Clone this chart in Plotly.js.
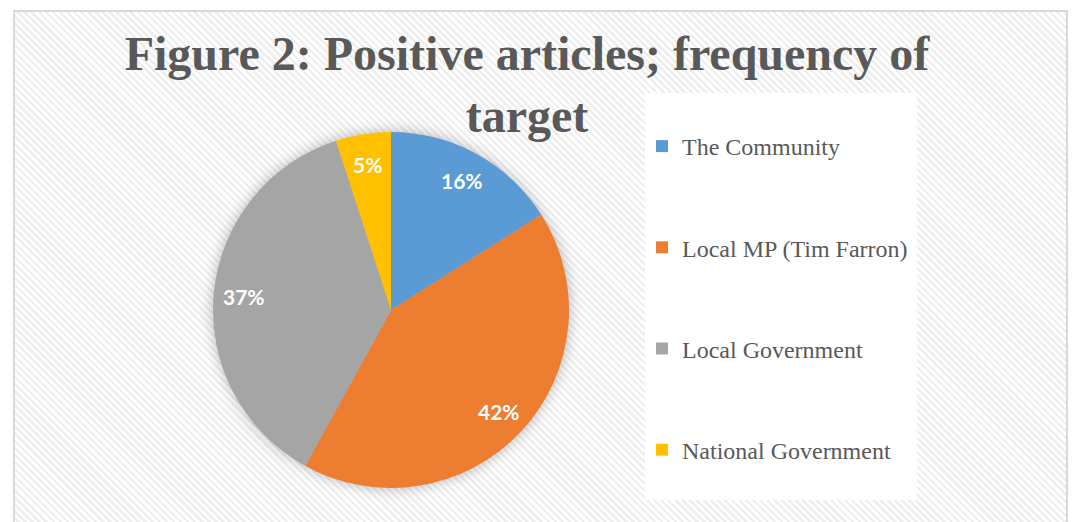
<!DOCTYPE html>
<html>
<head>
<meta charset="utf-8">
<script src="https://cdn.plot.ly/plotly-3.0.1.min.js"></script>
<style>
  html, body { margin: 0; padding: 0; background: #ffffff; }
  #wrap { position: relative; width: 1075px; height: 522px; overflow: hidden; background: #ffffff; }
  #frame {
    position: absolute; left: 13px; top: 10px; width: 1055px; height: 530px;
    border: 2px solid #d9d9d9; box-sizing: border-box;
    background: repeating-linear-gradient(45deg, #ffffff 0px, #ffffff 2.5px, #efefef 2.5px, #efefef 5px);
  }
  #chart { position: absolute; left: 0; top: 0; width: 1075px; height: 522px; }
  .pielayer { filter: drop-shadow(0px 0px 7px rgba(0,0,0,0.28)); }
</style>
</head>
<body>
<div id="wrap">
  <div id="frame"></div>
  <div id="chart"></div>
</div>
<script>
// ---- data ----
const categories = ["The Community", "Local MP (Tim Farron)", "Local Government", "National Government"];
const shares = [16, 42, 37, 5];
const colors = ["#5B9BD5", "#ED7D31", "#A5A5A5", "#FFC000"];
const titleText = "Figure 2: Positive articles; frequency of<br>target";

const W = 1075, H = 522;
const px = v => v / W;
const py = v => 1 - v / H;

// pie geometry (pixels)
const CX = 391, CY = 310, R = 178;

const pie = {
  type: "pie",
  labels: categories,
  values: shares,
  sort: false,
  direction: "clockwise",
  rotation: 0,
  marker: { colors: colors, line: { width: 0 } },
  textinfo: "none",
  hoverinfo: "label+percent",
  showlegend: false,
  domain: { x: [px(CX - R), px(CX + R)], y: [py(CY + R), py(CY - R)] }
};

// data labels placed along each slice's bisector, like the original
const total = shares.reduce((a, b) => a + b, 0);
let cum = 0;
const labelAnns = shares.map(v => {
  const mid = (cum + v / 2) / total * 2 * Math.PI;
  cum += v;
  const d = 0.83 * R;
  return {
    xref: "paper", yref: "paper",
    x: px(CX + d * Math.sin(mid)), y: py(CY - d * Math.cos(mid)),
    xanchor: "center", yanchor: "middle",
    text: Math.round(v / total * 100) + "%",
    showarrow: false,
    font: { family: "Lato, 'Open Sans', sans-serif", size: 21, color: "#ffffff", weight: "bold" }
  };
});

// legend entries (one per category) so the legend can be spaced like the original
const legendTraces = categories.map((c, i) => ({
  type: "scatter",
  mode: "markers",
  x: [null], y: [null],
  name: c,
  legendgroup: "g" + i,
  marker: { symbol: "square", size: 12, color: colors[i] },
  hoverinfo: "skip"
}));

const layout = {
  width: W, height: H,
  margin: { l: 0, r: 0, t: 0, b: 0 },
  paper_bgcolor: "rgba(0,0,0,0)",
  plot_bgcolor: "rgba(0,0,0,0)",
  xaxis: { visible: false },
  yaxis: { visible: false },
  title: {
    text: titleText,
    font: { family: "'Liberation Serif', 'Times New Roman', serif", size: 48, color: "#595959", weight: "bold" },
    x: px(527), xanchor: "center",
    y: py(70), yanchor: "top", yref: "container", xref: "container"
  },
  showlegend: true,
  legend: {
    x: px(642), xanchor: "left",
    y: py(124), yanchor: "top",
    bgcolor: "rgba(0,0,0,0)",
    traceorder: "grouped",
    tracegroupgap: 67,
    font: { family: "'Liberation Serif', 'Times New Roman', serif", size: 24, color: "#595959" },
    itemwidth: 30
  },
  annotations: labelAnns,
  shapes: [{
    type: "rect", xref: "paper", yref: "paper",
    x0: px(645), x1: px(917), y0: py(500), y1: py(93),
    fillcolor: "#ffffff", line: { width: 0 }, layer: "below"
  }]
};

Plotly.newPlot("chart", [pie].concat(legendTraces), layout, { displayModeBar: false, staticPlot: true });
</script>
</body>
</html>
